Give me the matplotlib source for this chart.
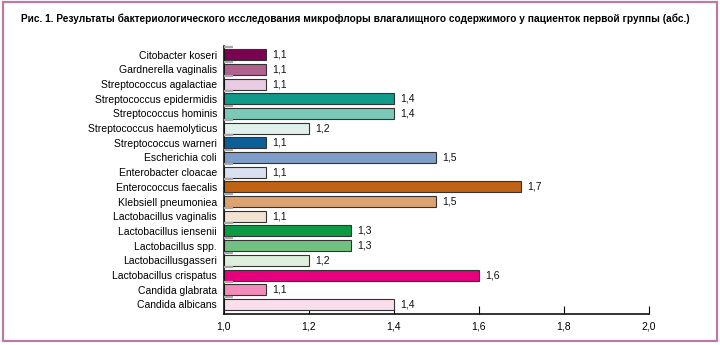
import matplotlib
matplotlib.use("Agg")
import matplotlib.pyplot as plt
from matplotlib.patches import Rectangle

categories = ["Citobacter koseri", "Gardnerella vaginalis", "Streptococcus agalactiae",
              "Streptococcus epidermidis", "Streptococcus hominis", "Streptococcus haemolyticus",
              "Streptococcus warneri", "Escherichia coli", "Enterobacter cloacae",
              "Enterococcus faecalis", "Klebsiell pneumoniea", "Lactobacillus vaginalis",
              "Lactobacillus iensenii", "Lactobacillus spp.", "Lactobacillusgasseri",
              "Lactobacillus crispatus", "Candida glabrata", "Candida albicans"]
values = [1.1, 1.1, 1.1, 1.4, 1.4, 1.2, 1.1, 1.5, 1.1, 1.7, 1.5, 1.1, 1.3, 1.3, 1.2, 1.6, 1.1, 1.4]
value_labels = ["1,1", "1,1", "1,1", "1,4", "1,4", "1,2", "1,1", "1,5", "1,1", "1,7", "1,5",
                "1,1", "1,3", "1,3", "1,2", "1,6", "1,1", "1,4"]
colors = ["#7a0052", "#b0628f", "#e9cbe2", "#109a89", "#7cc9ba", "#e0f1ec", "#0b5f98",
          "#7f9dc9", "#d9e1f0", "#bf6214", "#dca272", "#f4e2d0", "#0c9b42", "#72c183",
          "#def0dd", "#e6007e", "#f18dba", "#fbdeec"]
xticks = [1.0, 1.2, 1.4, 1.6, 1.8, 2.0]
xticklabels = ["1,0", "1,2", "1,4", "1,6", "1,8", "2,0"]
title = "Рис. 1. Результаты бактериологического исследования микрофлоры влагалищного содержимого у пациенток первой группы (абс.)"

plt.rcParams["font.family"] = ["Liberation Sans", "DejaVu Sans"]

fig = plt.figure(figsize=(7.2, 3.45), dpi=100)
ax = fig.add_axes([0.311, 0.0913, 0.590, 0.775])

n = len(categories)
ypos = list(range(n))
left = 1.0
ax.barh(ypos, [v - left for v in values], left=left, height=0.75, color=colors,
        edgecolor="#333333", linewidth=0.8, zorder=2)
for y, v, lab in zip(ypos, values, value_labels):
    ax.text(v + 0.014, y, lab, va="center", ha="left", fontsize=7.5, color="#111111")

# gray tick marks above each bar
for y in ypos:
    ax.plot([1.0, 1.021], [y - 0.53, y - 0.53], color="#a8a8a8", lw=1.6,
            solid_capstyle="butt", zorder=3, clip_on=False)

ax.set_xlim(1.0, 2.0)
ax.set_ylim(n - 1 + 0.62, -0.58)
ax.set_yticks(ypos)
ax.set_yticklabels(categories, fontsize=7.5)
ax.tick_params(axis="y", length=0, pad=5)
ax.set_xticks(xticks)
ax.set_xticklabels(xticklabels, fontsize=7.5)
ax.tick_params(axis="x", direction="in", length=6, width=0.8, pad=6)
for s in ["top", "right"]:
    ax.spines[s].set_visible(False)
for s in ["left", "bottom"]:
    ax.spines[s].set_linewidth(1.2)
    ax.spines[s].set_color("#111111")

t = fig.text(0.493, 0.945, title, ha="center", va="center", fontsize=8, fontweight="bold")
# shrink the title so it spans the same width as in the reference (~663 px)
fig.canvas.draw()
w = t.get_window_extent().width
t.set_fontsize(8 * 663.0 / w)

fig.patches.append(Rectangle((0.004, 0.012), 0.992, 0.982, transform=fig.transFigure,
                             fill=False, edgecolor="#b97aa9", linewidth=1.6))

fig.savefig("out.png", dpi=100)
